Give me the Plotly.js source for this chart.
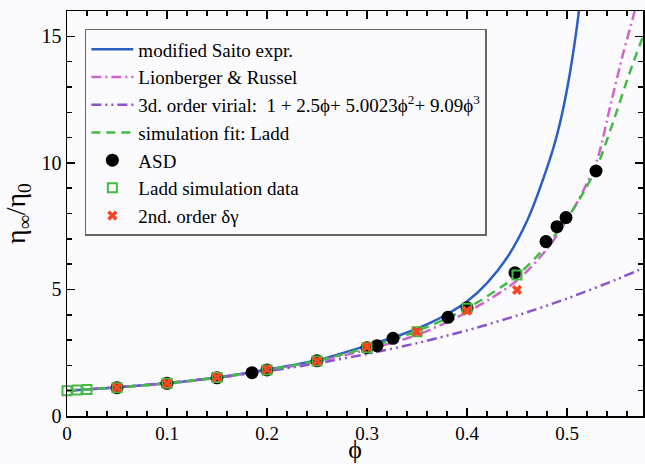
<!DOCTYPE html>
<html>
<head>
<meta charset="utf-8">
<script src="https://cdn.plot.ly/plotly-3.0.1.min.js"></script>
<style>
html,body{margin:0;padding:0;background:#fbfbfd;}
#chart svg text, #chart svg tspan { font-family: 'Liberation Serif' !important; }
</style>
</head>
<body>
<div id="chart" style="width:645px;height:464px;"></div>
<script>
// Modified Saito expression
const saitoPhi = [0, 0.05, 0.1, 0.15, 0.2, 0.25, 0.3, 0.33, 0.36, 0.38, 0.4, 0.42, 0.44, 0.46, 0.48, 0.49, 0.5, 0.51, 0.52];
const saitoEta = [1, 1.13, 1.29, 1.52, 1.83, 2.2, 2.78, 3.15, 3.62, 4.02, 4.52, 5.25, 6.25, 7.7, 9.8, 11.1, 12.9, 15.4, 19.0];
// Lionberger & Russel
const lrPhi = [0, 0.05, 0.1, 0.15, 0.2, 0.25, 0.3, 0.35, 0.4, 0.45, 0.48, 0.5, 0.515, 0.53, 0.543, 0.556, 0.567, 0.576];
const lrEta = [1, 1.13, 1.28, 1.5, 1.8, 2.15, 2.62, 3.2, 4.1, 5.35, 6.6, 7.75, 8.8, 10.1, 12.2, 14.3, 15.9, 17.5];
// 3d order virial
const virPhi = [0, 0.05, 0.1, 0.15, 0.2, 0.25, 0.3, 0.35, 0.4, 0.45, 0.5, 0.55, 0.576];
const virEta = [1, 1.14, 1.31, 1.52, 1.77, 2.08, 2.45, 2.88, 3.38, 3.97, 4.64, 5.40, 5.84];
// simulation fit: Ladd
const fitPhi = [0, 0.05, 0.1, 0.15, 0.2, 0.25, 0.3, 0.35, 0.4, 0.45, 0.48, 0.5, 0.513, 0.53, 0.546, 0.563, 0.576];
const fitEta = [1, 1.13, 1.29, 1.52, 1.82, 2.18, 2.7, 3.35, 4.25, 5.55, 6.75, 7.8, 8.6, 9.85, 11.6, 13.6, 15.0];
// ASD
const asdPhi = [0.05, 0.1, 0.15, 0.185, 0.2, 0.25, 0.3, 0.31, 0.326, 0.381, 0.4, 0.448, 0.479, 0.49, 0.499, 0.529];
const asdEta = [1.12, 1.29, 1.51, 1.71, 1.82, 2.18, 2.70, 2.78, 3.07, 3.90, 4.28, 5.66, 6.89, 7.48, 7.84, 9.68];
// Ladd simulation data
const laddPhi = [0, 0.01, 0.02, 0.05, 0.1, 0.15, 0.2, 0.25, 0.3, 0.35, 0.4, 0.45];
const laddEta = [1.0, 1.025, 1.05, 1.12, 1.29, 1.52, 1.82, 2.17, 2.70, 3.33, 4.26, 5.57];
// 2nd order delta gamma
const dgPhi = [0.05, 0.1, 0.15, 0.2, 0.25, 0.3, 0.35, 0.4, 0.45];
const dgEta = [1.12, 1.29, 1.53, 1.84, 2.17, 2.73, 3.33, 4.16, 4.98];

const traces = [
  {x: saitoPhi, y: saitoEta, mode: 'lines', name: 'modified Saito expr.',
   line: {color: '#2b5fc4', width: 2.5, shape: 'spline', smoothing: 0.8}},
  {x: lrPhi, y: lrEta, mode: 'lines', name: 'Lionberger &amp; Russel',
   line: {color: '#cc66cc', width: 2.5, dash: '10px,4px,2px,4px', shape: 'spline', smoothing: 0.8}},
  {x: virPhi, y: virEta, mode: 'lines', name: '3d. order virial:  1 + 2.5\u03d5+ 5.0023\u03d5<sup>2</sup>+ 9.09\u03d5<sup>3</sup>',
   line: {color: '#8a55cc', width: 2.5, dash: '10px,4px,2px,4px,2px,4px', shape: 'spline', smoothing: 0.8}},
  {x: fitPhi, y: fitEta, mode: 'lines', name: 'simulation fit: Ladd',
   line: {color: '#44bb44', width: 2.5, dash: '9px,6px', shape: 'spline', smoothing: 0.8}},
  {x: asdPhi, y: asdEta, mode: 'markers', name: 'ASD',
   marker: {symbol: 'circle', size: 13, color: '#000000'}},
  {x: laddPhi, y: laddEta, mode: 'markers', name: 'Ladd simulation data', cliponaxis: false,
   marker: {symbol: 'square-open', size: 9, color: '#44bb44', line: {width: 2, color: '#44bb44'}}},
  {x: dgPhi, y: dgEta, mode: 'markers', name: '2nd. order \u03b4\u03b3',
   marker: {symbol: 'x', size: 9, color: '#ff4422', line: {width: 0}}}
];

const layout = {
  width: 645, height: 464,
  margin: {l: 67, r: 2, t: 11, b: 48},
  paper_bgcolor: '#fbfbfd', plot_bgcolor: '#fbfbfd',
  font: {family: 'Times New Roman', size: 19, color: '#000000'},
  showlegend: true,
  legend: {x: 0.031, y: 0.9556, xanchor: 'left', yanchor: 'top',
    bgcolor: '#fbfbfd', bordercolor: '#666666', borderwidth: 1.5,
    itemwidth: 42, tracegroupgap: 0,
    font: {family: 'Times New Roman', size: 19, color: '#000000'}},
  xaxis: {range: [0, 0.576], tickvals: [0, 0.1, 0.2, 0.3, 0.4, 0.5],
    ticktext: ['0', '0.1', '0.2', '0.3', '0.4', '0.5'],
    ticks: 'inside', ticklen: 8, tickwidth: 1.5, tickcolor: '#000000',
    minor: {dtick: 0.02, ticks: 'inside', ticklen: 5, tickwidth: 1.5, tickcolor: '#000000'},
    showline: true, linecolor: '#000000', linewidth: 1.5, mirror: 'allticks',
    showgrid: false, zeroline: false, automargin: false,
    tickfont: {family: 'Times New Roman', size: 19, color: '#000000'},
    title: {text: '\u03d5', font: {family: 'Times New Roman', size: 26, color: '#000000'}, standoff: 10}},
  yaxis: {range: [0, 16], tickvals: [0, 5, 10, 15],
    ticks: 'inside', ticklen: 8, tickwidth: 1.5, tickcolor: '#000000',
    minor: {dtick: 1, ticks: 'inside', ticklen: 5, tickwidth: 1.5, tickcolor: '#000000'},
    showline: true, linecolor: '#000000', linewidth: 1.5, mirror: 'allticks',
    showgrid: false, zeroline: false, automargin: false,
    tickfont: {family: 'Times New Roman', size: 20, color: '#000000'},
    title: {text: '\u03b7<sub>\u221e</sub>/\u03b7<sub>0</sub>', font: {family: 'Times New Roman', size: 28, color: '#000000'}, standoff: 8}}
};

Plotly.newPlot('chart', traces, layout, {displayModeBar: false, staticPlot: true});
</script>
</body>
</html>
